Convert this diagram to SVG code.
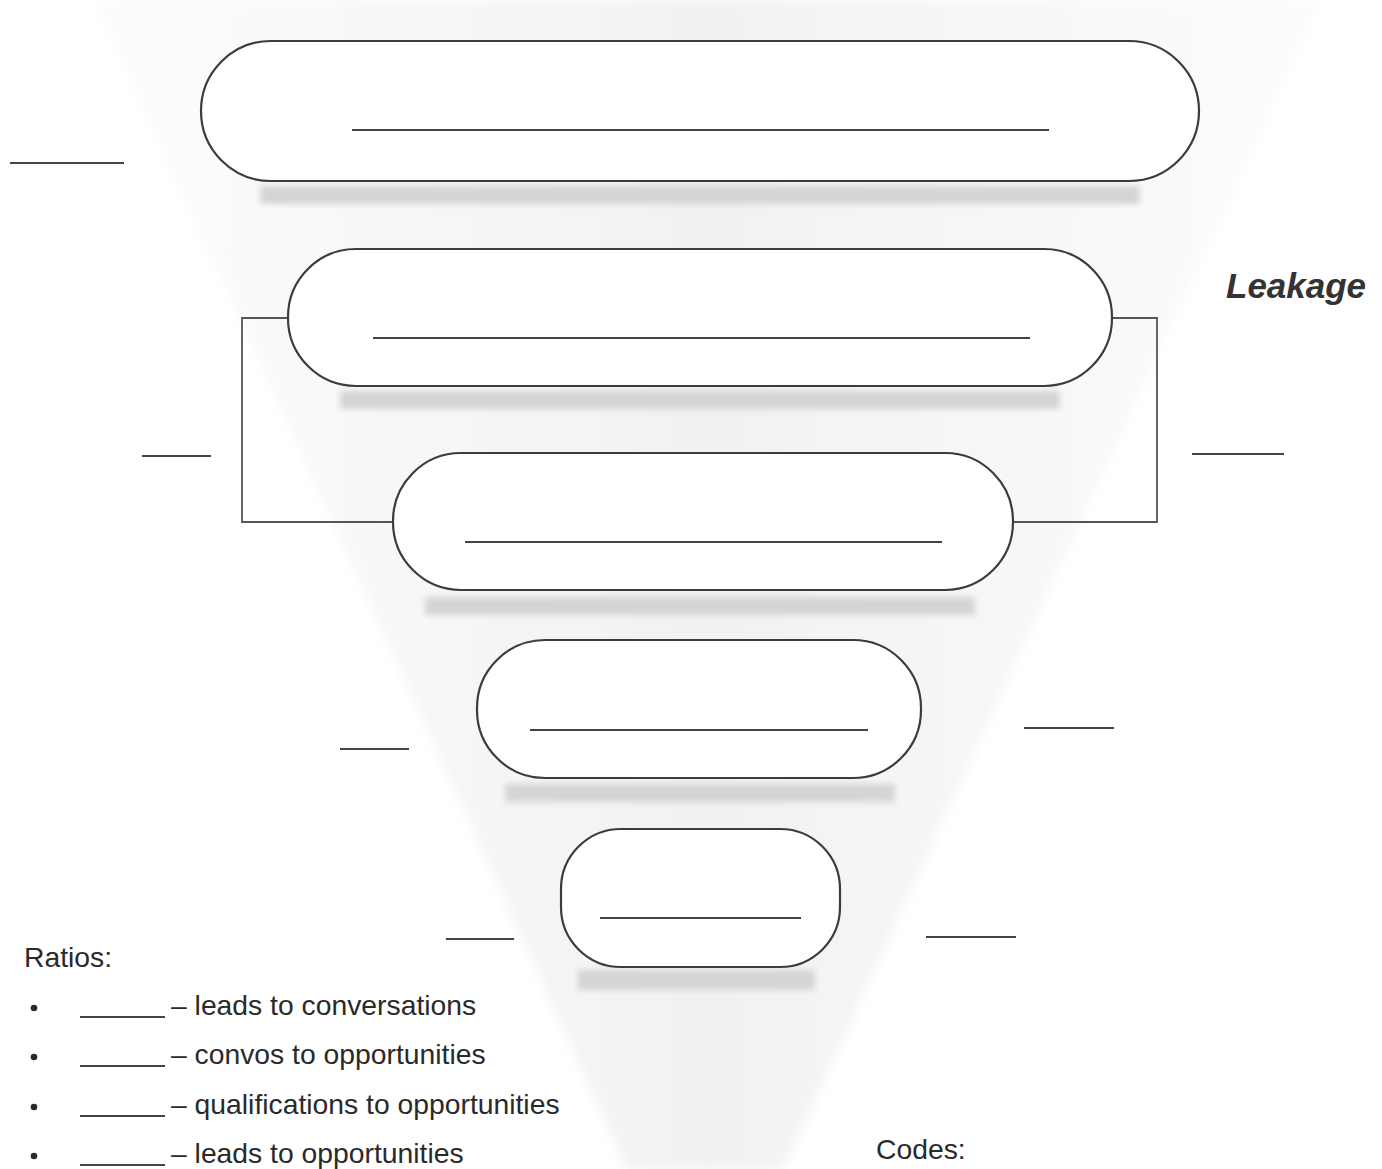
<svg xmlns="http://www.w3.org/2000/svg" width="1382" height="1169" viewBox="0 0 1382 1169">
  <defs>
    <linearGradient id="funnelFill" x1="0" y1="0" x2="1" y2="0">
      <stop offset="0" stop-color="#f7f7f7" stop-opacity="0.4"/>
      <stop offset="0.5" stop-color="#f1f1f1"/>
      <stop offset="1" stop-color="#f7f7f7" stop-opacity="0.4"/>
    </linearGradient>
    <filter id="soft" x="-10%" y="-100%" width="120%" height="300%">
      <feGaussianBlur stdDeviation="3"/>
    </filter>
    <filter id="edge" x="-5%" y="-5%" width="110%" height="110%">
      <feGaussianBlur stdDeviation="6"/>
    </filter>
  </defs>
  <style>
    .pill { fill: #ffffff; stroke: #3c3c3c; stroke-width: 2.2; }
    .blank { stroke: #444444; stroke-width: 2; fill: none; }
    .bracket { stroke: #555555; stroke-width: 1.8; fill: none; }
    .band { fill: #d4d4d4; filter: url(#soft); }
    .body { font-family: "Liberation Sans", Arial, sans-serif; font-size: 28.3px; fill: #2a2a2a; }
    .title { font-family: "Liberation Sans", Arial, sans-serif; font-size: 35px; font-weight: bold; font-style: italic; fill: #333333; }
  </style>

  <rect width="1382" height="1169" fill="#ffffff"/>

  <!-- funnel backdrop -->
  <polygon points="95,0 1320,0 783,1169 627,1169" fill="url(#funnelFill)" filter="url(#edge)"/>

  <!-- faded label bands beneath each stage -->
  <g id="bands">
    <rect class="band" x="260" y="186" width="880" height="18"/>
    <rect class="band" x="340" y="391" width="720" height="18"/>
    <rect class="band" x="425" y="597" width="550" height="18"/>
    <rect class="band" x="505" y="784" width="390" height="18"/>
    <rect class="band" x="578" y="970" width="237" height="20"/>
  </g>

  <!-- brackets joining stages 2 and 3 -->
  <g id="connectors">
    <polyline class="bracket" points="288,318 242,318 242,522 393,522"/>
    <polyline class="bracket" points="1112,318 1157,318 1157,522 1013,522"/>
  </g>

  <g id="stage1">
    <rect class="pill" x="201" y="41" width="998" height="140" rx="70"/>
    <line class="blank" x1="352" y1="130" x2="1049" y2="130"/>
  </g>
  <g id="stage2">
    <rect class="pill" x="288" y="249" width="824" height="137" rx="68"/>
    <line class="blank" x1="373" y1="338" x2="1030" y2="338"/>
  </g>
  <g id="stage3">
    <rect class="pill" x="393" y="453" width="620" height="137" rx="68"/>
    <line class="blank" x1="465" y1="542" x2="942" y2="542"/>
  </g>
  <g id="stage4">
    <rect class="pill" x="477" y="640" width="444" height="138" rx="68"/>
    <line class="blank" x1="530" y1="730" x2="868" y2="730"/>
  </g>
  <g id="stage5">
    <rect class="pill" x="561" y="829" width="279" height="138" rx="60"/>
    <line class="blank" x1="600" y1="918" x2="801" y2="918"/>
  </g>

  <!-- side blanks -->
  <g id="sideBlanks">
    <line class="blank" x1="10" y1="163" x2="124" y2="163"/>
    <line class="blank" x1="142" y1="456" x2="211" y2="456"/>
    <line class="blank" x1="340" y1="749" x2="409" y2="749"/>
    <line class="blank" x1="446" y1="939" x2="514" y2="939"/>
    <line class="blank" x1="1192" y1="454" x2="1284" y2="454"/>
    <line class="blank" x1="1024" y1="728" x2="1114" y2="728"/>
    <line class="blank" x1="926" y1="937" x2="1016" y2="937"/>
  </g>

  <g id="leakage">
    <text class="title" x="1226" y="298">Leakage</text>
  </g>

  <g id="ratios">
    <text class="body" x="24" y="967">Ratios:</text>
    <g fill="#2a2a2a">
      <circle cx="34" cy="1008" r="3.3"/>
      <circle cx="34" cy="1057" r="3.3"/>
      <circle cx="34" cy="1107" r="3.3"/>
      <circle cx="34" cy="1156" r="3.3"/>
    </g>
    <g class="blank" stroke-width="1.6">
      <line x1="80" y1="1017" x2="165" y2="1017"/>
      <line x1="80" y1="1066" x2="165" y2="1066"/>
      <line x1="80" y1="1116" x2="165" y2="1116"/>
      <line x1="80" y1="1165" x2="165" y2="1165"/>
    </g>
    <text class="body" x="171" y="1015">– leads to conversations</text>
    <text class="body" x="171" y="1064">– convos to opportunities</text>
    <text class="body" x="171" y="1114">– qualifications to opportunities</text>
    <text class="body" x="171" y="1163">– leads to opportunities</text>
  </g>

  <g id="codes">
    <text class="body" x="876" y="1159">Codes:</text>
  </g>
</svg>
